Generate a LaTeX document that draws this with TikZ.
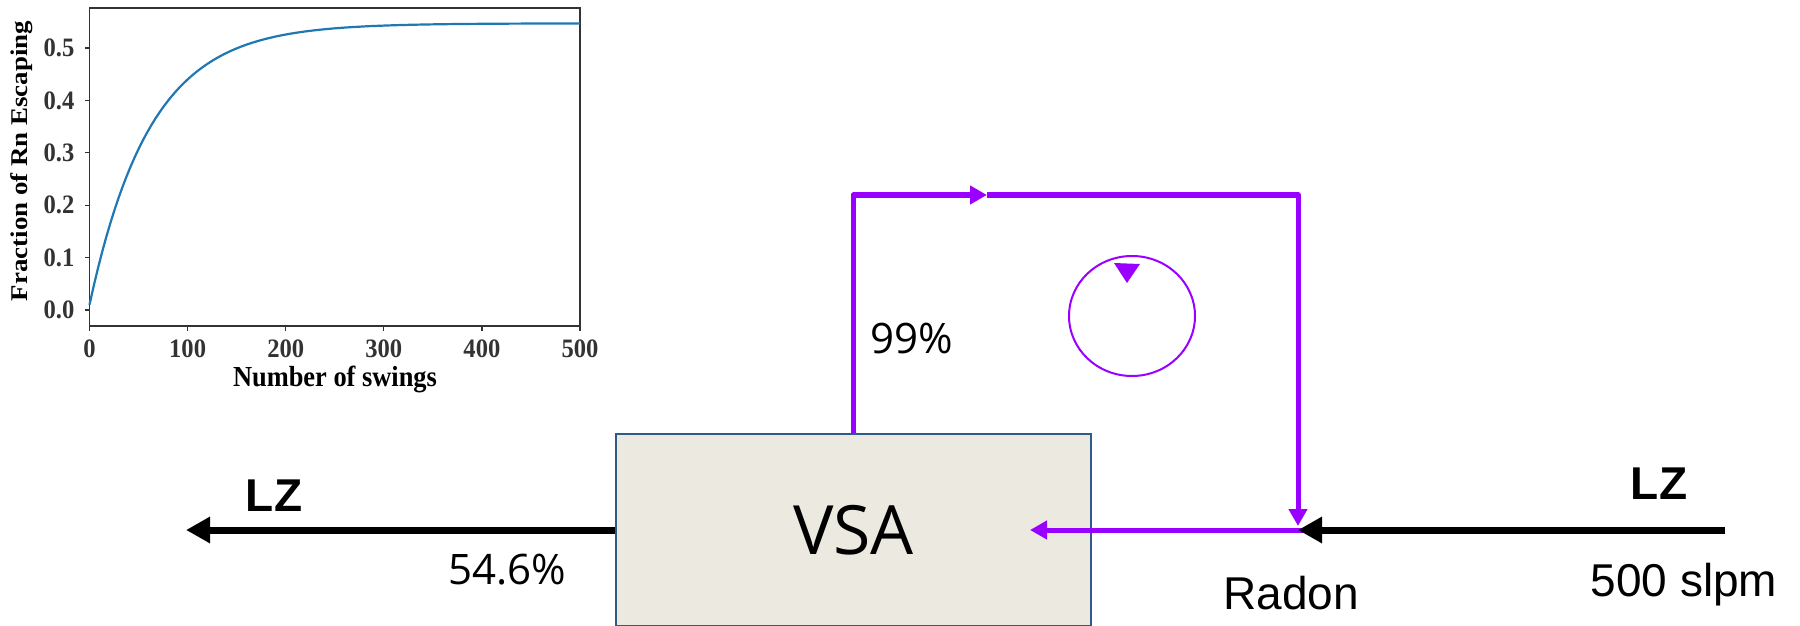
\documentclass[tikz,border=0pt]{standalone}
\usepackage{fontspec}
\setmainfont{Open Sans}
\newfontfamily\arialfont{Liberation Sans}
\newfontfamily\timesfont{Liberation Serif}
\usetikzlibrary{arrows.meta,positioning,calc}
\definecolor{rnpurple}{HTML}{9900FF}
\definecolor{vsafill}{HTML}{ECEAE0}
\definecolor{vsaedge}{HTML}{2E5A8C}
\definecolor{mplblue}{HTML}{1F77B4}
\newcommand{\tall}[2][1.1]{\scalebox{1}[#1]{#2}}
\tikzset{
  flow/.style={rnpurple,line width=2.5pt,line join=round,-{Triangle[length=8.5pt,width=9pt]}},
  lzflow/.style={black,line width=3.5pt,-{Triangle[length=12pt,width=12.5pt]}},
  vsabox/.style={draw=vsaedge,fill=vsafill,line width=0.75pt,minimum width=237.5pt,minimum height=96pt,font=\fontsize{34}{40}\selectfont},
  ticklab/.style={font=\timesfont\bfseries\fontsize{12.3}{14}\selectfont,inner sep=0pt},
  axlab/.style={font=\timesfont\bfseries\fontsize{12.5}{15}\selectfont,inner sep=0pt},
  lab/.style={font=\fontsize{21}{25}\selectfont,inner sep=0pt},
  arlab/.style={font=\arialfont\fontsize{23}{27}\selectfont,inner sep=0pt},
  lzlab/.style={font=\arialfont\bfseries\fontsize{23}{27}\selectfont,inner sep=0pt},
}
\begin{document}
\begin{tikzpicture}[x=0.5pt,y=-0.5pt,>=Triangle]
\fill[white] (0,0) rectangle (1800,626);
\useasboundingbox (0,0) rectangle (1800,626);
% plot of escaping fraction
\draw[line width=0.6pt,black!80] (89.5,8) rectangle (580,326);
\foreach \k/\n in {0/0,1/100,2/200,3/300,4/400,5/500}{
  \draw[line width=0.6pt,black!80] ({89.5+98.1*\k},326) -- ++(0,4.5) node[ticklab,below=4.5pt] (xt\k) {\tall[1.08]{\n}};
  \draw[line width=0.6pt,black!80] (89.5,{310-52.4*\k}) -- ++(-4.5,0) node[ticklab,left=5pt] (yt\k) {\tall[1.08]{0.\k}};
}
\draw[mplblue,line width=1.1pt] plot[domain=0:500,samples=120] ({89.5+0.981*\x},{310-524*(0.547-0.537*exp(-\x/62))});
\node[axlab,rotate=90] (ylab) at (22,161) {\scalebox{1.12}[1]{\fontsize{12}{14}\selectfont Fraction of Rn Escaping}};
\node[axlab] (xlab) at (335,379) {\tall[1.1]{\fontsize{13.2}{15}\selectfont Number of swings}};
% flow diagram
\node[vsabox] (vsa) at (853.5,530) {VSA};
\coordinate (lzout) at (186,530);
\coordinate (lzin) at (1725,530);
\coordinate (junc) at (1298,530);
\coordinate (rnin) at (1030,530);
\coordinate (rntail) at (1458,530);
\coordinate (loopL) at (853,195);
\coordinate (loopM) at (987,195);
\coordinate (loopR) at (1298,195);
\draw[lzflow] (vsa.west) -- (lzout);
\draw[flow] (vsa.north -| loopL) -- (loopL) -- (loopM);
\draw[flow] (loopM) -- (loopR) -- ($(junc)+(0,-4)$);
\draw[flow] (rntail) -- (rnin);
\draw[lzflow] (lzin) -- (junc);
\draw[rnpurple,line width=1pt] (1132,316) ellipse [x radius=63,y radius=60];
\fill[rnpurple] (1114,263) -- (1140,264) -- (1127,283) -- cycle;
\node[lzlab] (lzleft) at (274,496) {LZ};
\node[lab] (pctout) at (507,570) {54.6\%};
\node[lab] (pctloop) at (912,338) {99\%};
\node[arlab] (radon) at (1291,593) {Radon};
\node[arlab] (slpm) at (1684,585) {500 slpm};
\node[lzlab] (lzright) at (1659,484) {LZ};
\end{tikzpicture}
\end{document}
